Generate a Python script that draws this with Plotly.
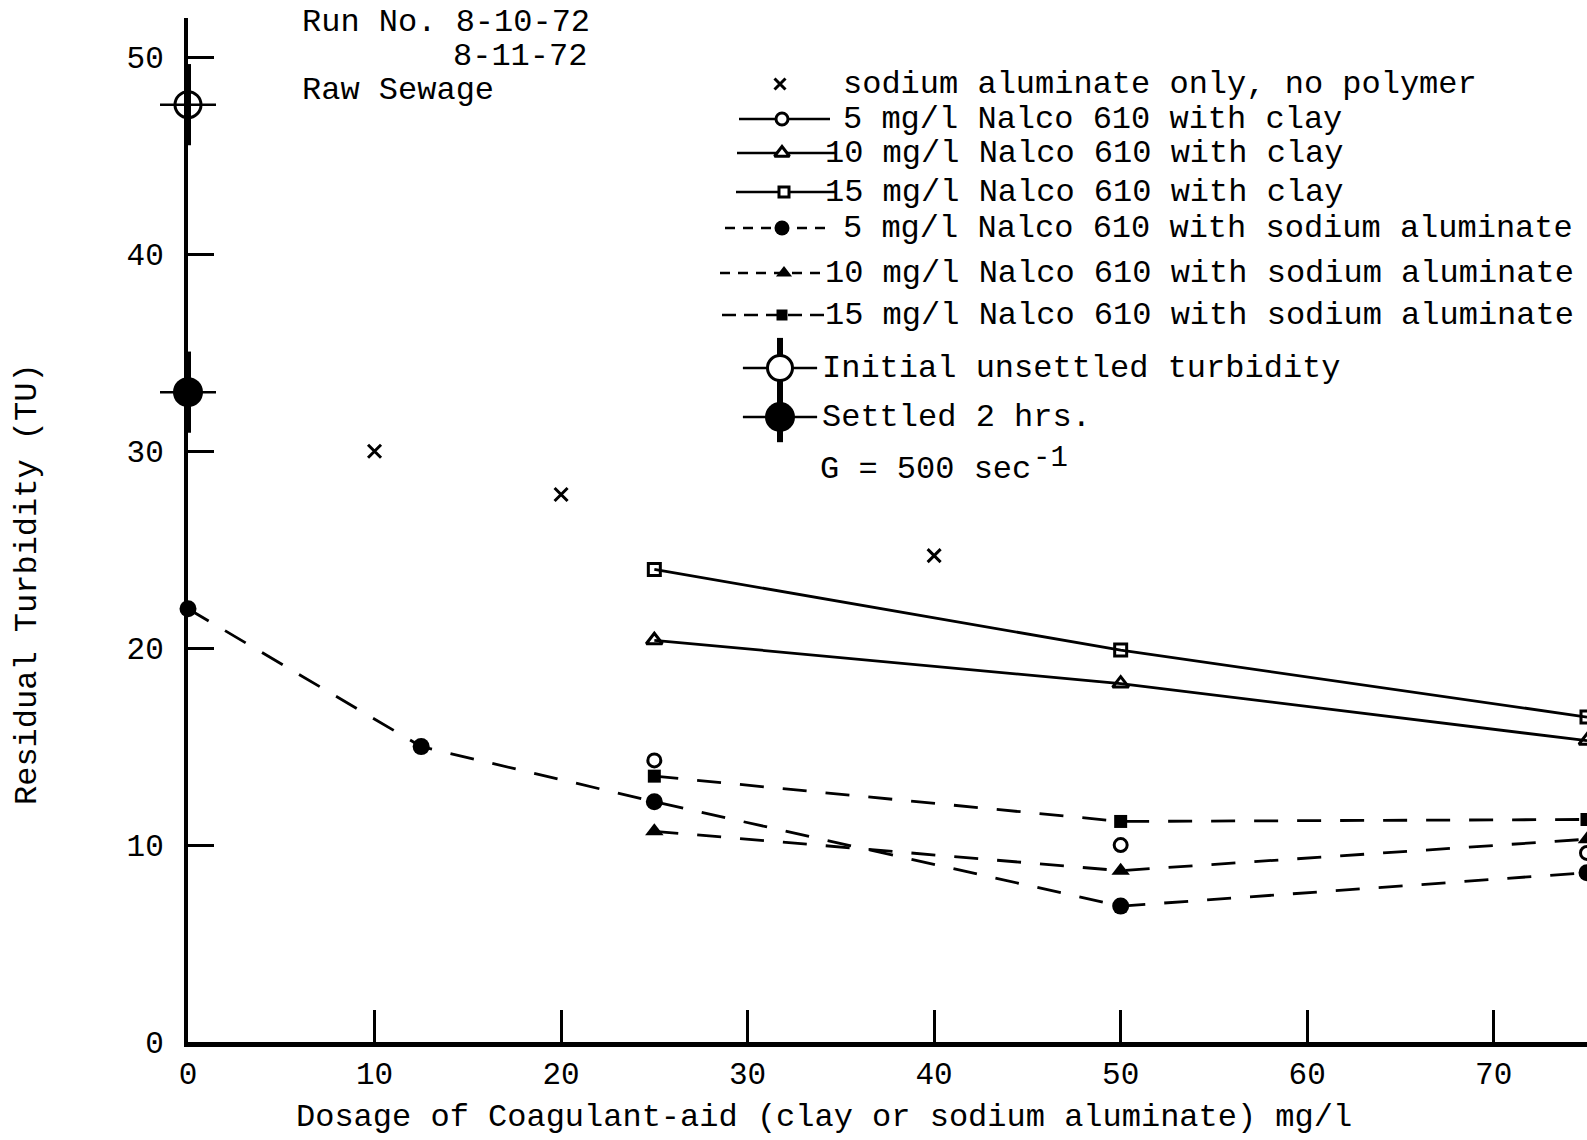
import plotly.graph_objects as go

FONT = "Liberation Mono, Courier New, monospace"
INK = "black"

# ---- data: residual turbidity (TU) vs coagulant-aid dosage (mg/l) ----
sa_only_dose = [10, 20, 40]
sa_only_tu = [30.0, 27.8, 24.7]

clay_dose = [25, 50, 75]
clay5_tu = [14.3, 10.0, 9.6]
clay10_tu = [20.4, 18.2, 15.3]
clay15_tu = [24.0, 19.9, 16.5]

sa5_dose = [0, 12.5, 25, 50, 75]
sa5_tu = [22.0, 15.0, 12.2, 6.9, 8.6]
sa_dose = [25, 50, 75]
sa10_tu = [10.7, 8.7, 10.3]
sa15_tu = [13.5, 11.2, 11.3]

initial_dose = [0]
initial_tu = [47.6]
settled_dose = [0]
settled_tu = [33.0]

x_ticks = [0, 10, 20, 30, 40, 50, 60, 70]
y_ticks = [0, 10, 20, 30, 40, 50]

legend_labels = [
    "sodium aluminate only, no polymer",
    "5 mg/l Nalco 610 with clay",
    "10 mg/l Nalco 610 with clay",
    "15 mg/l Nalco 610 with clay",
    "5 mg/l Nalco 610 with sodium aluminate",
    "10 mg/l Nalco 610 with sodium aluminate",
    "15 mg/l Nalco 610 with sodium aluminate",
    "Initial unsettled turbidity",
    "Settled 2 hrs.",
]

# ---- page geometry ----
W, H = 1587, 1140
ML, MR, MT, MB = 188, 0, 18, 98
PW, PH = W - ML - MR, H - MT - MB


def paper_x(px):
    return (px - ML) / PW


def paper_y(py):
    return (H - MB - py) / PH


fig = go.Figure()

DASH = "24px,19px"


def series(x, y, symbol, size, dash=None, lines=True, filled=False):
    marker = dict(symbol=symbol, size=size, color=INK,
                  line=dict(color=INK, width=3 if not filled else 0))
    fig.add_trace(go.Scatter(
        x=x, y=y, mode="lines+markers" if lines else "markers",
        line=dict(color=INK, width=2.8, dash=dash or "solid"),
        marker=marker, cliponaxis=False, showlegend=False, hoverinfo="x+y"))


series(sa_only_dose, sa_only_tu, "x-thin", 13, lines=False)
series(clay_dose, clay5_tu, "circle-open", 13, lines=False)
series(clay_dose, clay10_tu, "triangle-up-open", 14)
series(clay_dose, clay15_tu, "square-open", 12)
series(sa5_dose, sa5_tu, "circle", 17, dash=DASH, filled=True)
series(sa_dose, sa10_tu, "triangle-up", 16, dash=DASH, filled=True)
series(sa_dose, sa15_tu, "square", 13, dash=DASH, filled=True)


def stroke(x, y, symbol, size, width, xa, ya):
    fig.add_trace(go.Scatter(x=x, y=y, mode="markers", xaxis=xa, yaxis=ya,
                             marker=dict(symbol=symbol, size=size, color=INK,
                                         line=dict(color=INK, width=width)),
                             cliponaxis=False, showlegend=False, hoverinfo="skip"))


def bullseye(x, y, filled, xa="x", ya="y", ns=58, ew=40, d=27, hollow_fill=False):
    """Large turbidity marker with a thick vertical stroke and a thin cross bar."""
    if hollow_fill or filled:
        stroke(x, y, "line-ew", ew, 2.5, xa, ya)
        stroke(x, y, "line-ns", ns, 6, xa, ya)
    if filled:
        circ = dict(symbol="circle", size=d, color=INK, line=dict(width=0))
    elif hollow_fill:
        circ = dict(symbol="circle", size=d, color="white", line=dict(color=INK, width=3))
    else:
        circ = dict(symbol="circle-open", size=d, color=INK, line=dict(color=INK, width=3))
    fig.add_trace(go.Scatter(x=x, y=y, mode="markers", xaxis=xa, yaxis=ya, marker=circ,
                             cliponaxis=False, showlegend=False,
                             hoverinfo="skip" if xa != "x" else "x+y"))
    if not (hollow_fill or filled):
        stroke(x, y, "line-ew", ew, 2.5, xa, ya)
        stroke(x, y, "line-ns", ns, 6, xa, ya)


bullseye(initial_dose, initial_tu, filled=False, d=26)
bullseye(settled_dose, settled_tu, filled=True, d=30)

# ---- hand-drawn style key, placed on a pixel-scaled overlay axis ----
rows_y = [84, 119, 153, 192, 228, 273, 315, 368, 417]
key_styles = [
    dict(symbol="x-thin", size=11, line=None, x0=None, x1=None, mx=780, tx=841),
    dict(symbol="circle", size=12, line="solid", x0=739, x1=830, mx=782, tx=841),
    dict(symbol="triangle-up", size=13, line="solid", x0=737, x1=835, mx=782, tx=823),
    dict(symbol="square", size=10, line="solid", x0=736, x1=836, mx=784, tx=823),
    dict(symbol="circle", size=15, line="10px,8px", x0=725, x1=832, mx=782, tx=841),
    dict(symbol="triangle-up", size=14, line="10px,8px", x0=720, x1=825, mx=784, tx=823),
    dict(symbol="square", size=11, line="14px,8px", x0=722, x1=825, mx=782, tx=823),
]
key_filled = [True, False, False, False, True, True, True]

for st, filled, yy, label in zip(key_styles, key_filled, rows_y, legend_labels):
    if st["line"]:
        fig.add_trace(go.Scatter(x=[st["x0"], st["x1"]], y=[yy, yy], mode="lines",
                                 xaxis="x2", yaxis="y2",
                                 line=dict(color=INK, width=2.5, dash=st["line"]),
                                 showlegend=False, hoverinfo="skip"))
    fig.add_trace(go.Scatter(x=[st["mx"]], y=[yy], mode="markers", xaxis="x2", yaxis="y2",
                             marker=dict(symbol=st["symbol"], size=st["size"],
                                         color=INK if filled else "white",
                                         line=dict(color=INK, width=3 if st["symbol"] == "x-thin" or not filled else 0)),
                             showlegend=False, hoverinfo="skip"))
    fig.add_annotation(x=paper_x(st["tx"]), y=paper_y(yy), xref="paper", yref="paper",
                       text=label, showarrow=False, xanchor="left", yanchor="middle",
                       font=dict(family=FONT, size=32, color=INK))

bullseye([780], [rows_y[7]], filled=False, xa="x2", ya="y2", ns=43, ew=53, d=25, hollow_fill=True)
bullseye([780], [rows_y[8]], filled=True, xa="x2", ya="y2", ns=36, ew=53, d=30)
for yy, label in zip(rows_y[7:], legend_labels[7:]):
    fig.add_annotation(x=paper_x(820), y=paper_y(yy), xref="paper", yref="paper",
                       text=label, showarrow=False, xanchor="left", yanchor="middle",
                       font=dict(family=FONT, size=32, color=INK))

text_notes = [
    (300, 22, "left", 32, "Run No. 8-10-72"),
    (589, 56, "right", 32, "8-11-72"),
    (300, 90, "left", 32, "Raw Sewage"),
    (818, 469, "left", 32, "G = 500 sec"),
    (1031, 458, "left", 29, "-1"),
    (824, 1117, "center", 32, "Dosage of Coagulant-aid (clay or sodium aluminate) mg/l"),
]
for x, y, anchor, size, txt in text_notes:
    fig.add_annotation(x=paper_x(x), y=paper_y(y), xref="paper", yref="paper", text=txt,
                       showarrow=False, xanchor=anchor, yanchor="middle",
                       font=dict(family=FONT, size=size, color=INK))

fig.add_annotation(x=paper_x(27), y=paper_y(584), xref="paper", yref="paper",
                   text="Residual Turbidity (TU)", textangle=-90, showarrow=False,
                   xanchor="center", yanchor="middle",
                   font=dict(family=FONT, size=32, color=INK))

fig.update_layout(
    width=W, height=H,
    margin=dict(l=ML, r=MR, t=MT, b=MB, pad=0),
    paper_bgcolor="white", plot_bgcolor="white",
    showlegend=False,
    font=dict(family=FONT, size=31, color=INK),
    xaxis=dict(range=[0, 75], tickvals=x_ticks, ticktext=[str(v) for v in x_ticks],
               ticks="inside", ticklen=32, tickwidth=2.5, tickcolor=INK,
               showline=True, linewidth=5, linecolor=INK, showgrid=False, zeroline=False,
               ticklabelstandoff=0, tickfont=dict(family=FONT, size=31, color=INK)),
    yaxis=dict(range=[0, 52], tickvals=y_ticks, ticktext=[str(v) for v in y_ticks],
               ticks="inside", ticklen=26, tickwidth=2.5, tickcolor=INK,
               showline=True, linewidth=4, linecolor=INK, showgrid=False, zeroline=False,
               ticklabelstandoff=14, tickfont=dict(family=FONT, size=31, color=INK)),
    xaxis2=dict(range=[ML, W - MR], overlaying="x", anchor="y2", visible=False, fixedrange=True),
    yaxis2=dict(range=[H - MB, MT], overlaying="y", anchor="x2", visible=False, fixedrange=True),
)

fig.write_html("out.html")
